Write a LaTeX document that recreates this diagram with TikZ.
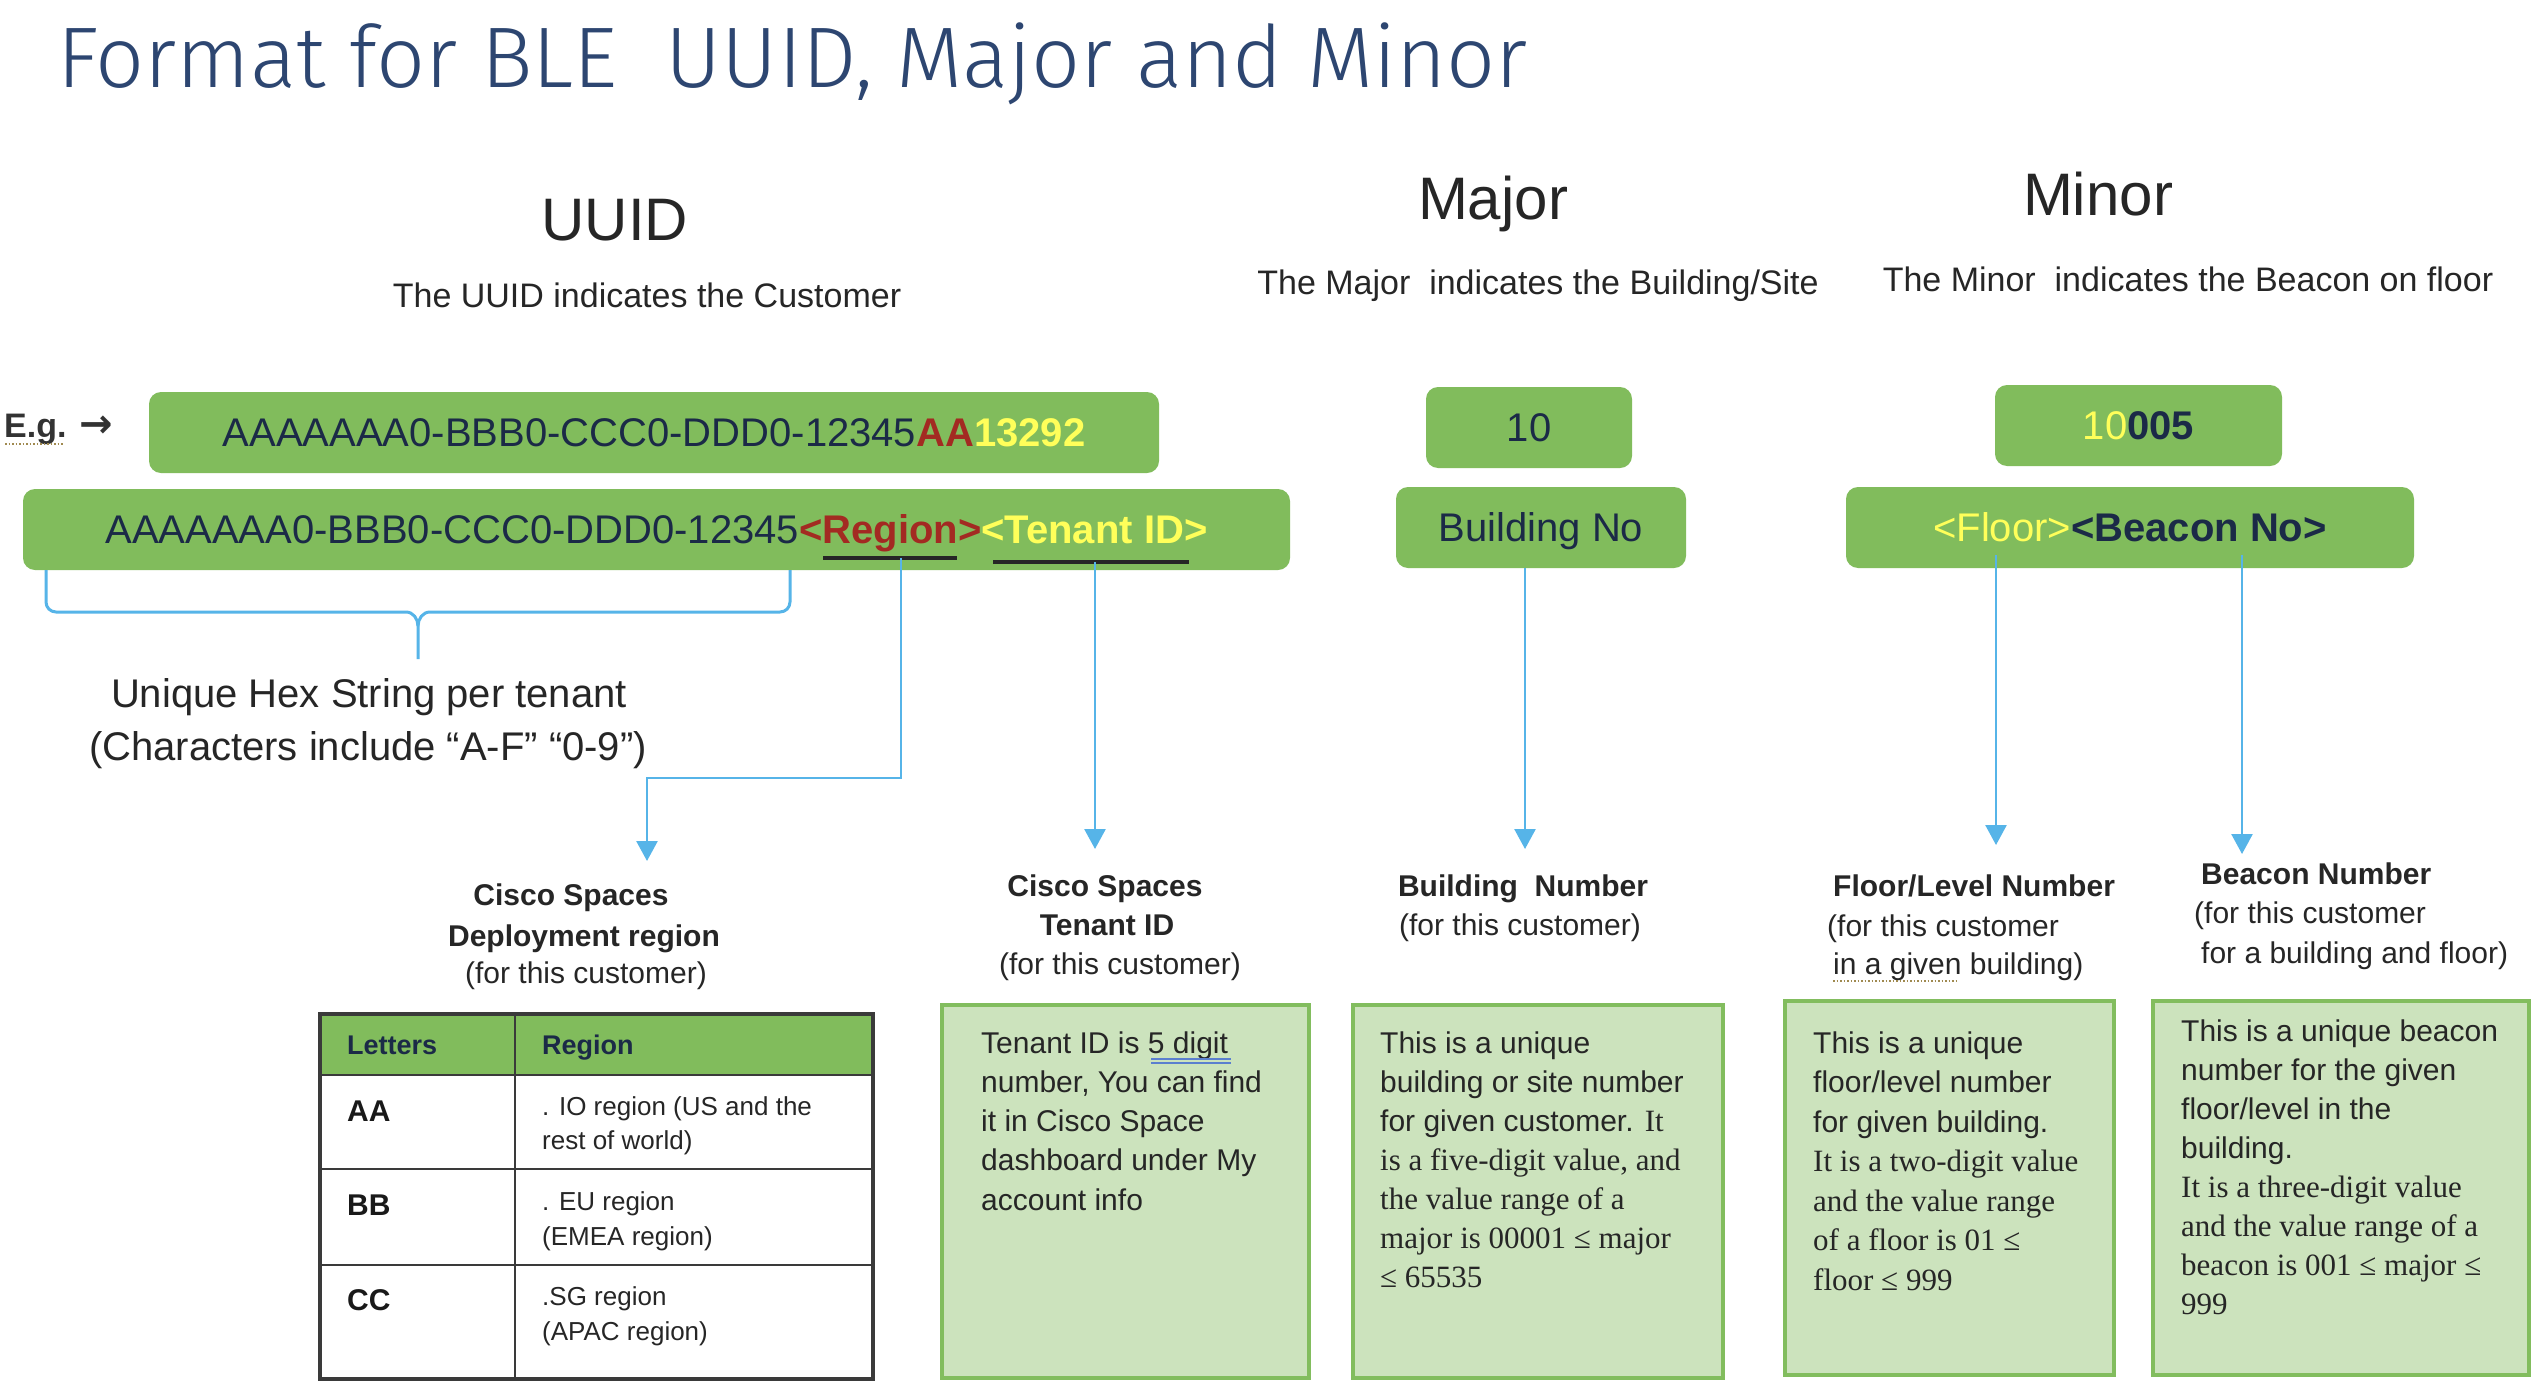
\documentclass[tikz,border=0pt]{standalone}
\usepackage{fontspec}
\setmainfont{Liberation Sans}
\newfontfamily\serifbody{Liberation Serif}
\newfontfamily\arrowfont{DejaVu Sans}
\IfFontExistsTF{Fira Sans Light}{\newfontfamily\titlefont{Fira Sans Light}}{\newfontfamily\titlefont{Liberation Sans}}
\usetikzlibrary{arrows.meta}
\newcommand\setfs[1]{\fontsize{#1}{#1}\selectfont}
\definecolor{titleblue}{HTML}{2D4671}
\definecolor{dgray}{HTML}{262626}
\definecolor{egray}{HTML}{333333}
\definecolor{navy}{HTML}{1B2A47}
\definecolor{uured}{HTML}{A32A22}
\definecolor{uuyellow}{HTML}{FFFF5A}
\definecolor{boxgreen}{HTML}{81BC5C}
\definecolor{lightgreen}{HTML}{CCE3BD}
\definecolor{bordergreen}{HTML}{82BD5E}
\definecolor{connblue}{HTML}{56B4E8}
\definecolor{dotolive}{HTML}{A08A50}
\definecolor{gramblue}{HTML}{5B7FCF}
\definecolor{tablegray}{HTML}{3A3A3A}
\begin{document}
\begin{tikzpicture}[x=1pt,y=-1pt,
  txt/.style={inner sep=0pt, text=dgray},
  gbox/.style={fill=boxgreen, rounded corners=12pt, inner sep=0pt, font=\setfs{40}, text height=28pt, text depth=0pt},
  dbox/.style={fill=lightgreen, draw=bordergreen, line width=3.5pt, inner sep=0pt},
  conn/.style={draw=connblue, line width=2.6pt, -{Triangle[width=21pt,length=20pt]}},
  bracel/.style={draw=connblue, line width=3pt},
  uline/.style={draw=dgray, line width=4pt},
  lblb/.style={txt, anchor=base, font=\bfseries\setfs{30}},
  lblr/.style={txt, anchor=base, font=\setfs{30}},
  lblbw/.style={txt, anchor=base west, font=\bfseries\setfs{30}},
  lblrw/.style={txt, anchor=base west, font=\setfs{30}},
  body/.style={txt, anchor=base west, font=\setfs{30}},
  tcell/.style={txt, anchor=base west, font=\setfs{26}},
  thead/.style={txt, anchor=base west, text=navy, font=\bfseries\setfs{27}},
  tkey/.style={txt, anchor=base west, text=black!90, font=\bfseries\setfs{30}},
  tline/.style={draw=tablegray, line width=2.5pt},
  touter/.style={draw=tablegray, line width=4pt}
]
\fill[white] (0,0) rectangle (2538,1392);
\useasboundingbox (0,0) rectangle (2538,1392);

% title
\node[txt, text=titleblue, anchor=base west] (title) at (57,87) {\titlefont\setfs{86}Format for BLE\ \ UUID, Major and Minor};

% headings
\node[txt, anchor=base, font=\setfs{60}] (uuidhead) at (615,240) {UUID};
\node[txt, anchor=base, font=\setfs{34}] (uuidsub) at (647,307) {The UUID indicates the Customer};
\node[txt, anchor=base, font=\setfs{60}] (majorhead) at (1493,219) {Major};
\node[txt, anchor=base, font=\setfs{34}] (majorsub) at (1538,294) {The Major\ \ indicates the Building/Site};
\node[txt, anchor=base, font=\setfs{60}] (minorhead) at (2098,215) {Minor};
\node[txt, anchor=base, font=\setfs{34}] (minorsub) at (2188,291) {The Minor\ \ indicates the Beacon on floor};

% E.g.
\node[txt, anchor=base west, text=egray, font=\bfseries\setfs{34}] (eg) at (4,437) {E.g. {\arrowfont\bfseries\setfs{40}→}};
\draw[dotted, line width=1.5pt, draw=dotolive] (5,444) -- (63,444);

% green boxes
\node[gbox, minimum width=1010pt, minimum height=81pt] (egbox) at (654,432.5)
  {\color{navy}AAAAAAA0-BBB0-CCC0-DDD0-12345\textbf{\textcolor{uured}{AA}\textcolor{uuyellow}{13292}}};
\node[gbox, minimum width=1267pt, minimum height=81pt] (fmtbox) at (656.5,529.5)
  {\color{navy}AAAAAAA0-BBB0-CCC0-DDD0-12345\textbf{\textcolor{uured}{<Region>}\textcolor{uuyellow}{<Tenant ID>}}};
\node[gbox, minimum width=206pt, minimum height=81pt] (box10) at (1529,427.5) {\color{navy}10};
\node[gbox, minimum width=290pt, minimum height=81pt] (bldgbox) at (1541,527.5) {\color{navy}Building No};
\node[gbox, minimum width=287pt, minimum height=81pt] (box10005) at (2138.5,425.5)
  {\textcolor{uuyellow}{10}\textcolor{navy}{\bfseries 005}};
\node[gbox, minimum width=568pt, minimum height=81pt] (floorbox) at (2130,527.5)
  {\textcolor{uuyellow}{<Floor>}\textcolor{navy}{\bfseries <Beacon No>}};

% underlines
\draw[uline] (823,558) -- (957,558);
\draw[uline] (993,562) -- (1189,562);

% brace
\draw[bracel] (46,570) -- (46,602) to[out=-90,in=180] (56,612) -- (406,612) to[out=0,in=90] (418,626) -- (418,659);
\draw[bracel] (790,570) -- (790,602) to[out=-90,in=0] (780,612) -- (430,612) to[out=180,in=90] (418,626);

% hex label
\node[txt, anchor=base, font=\setfs{40}] (hex1) at (369,707) {Unique Hex String per tenant};
\node[txt, anchor=base, font=\setfs{40}] (hex2) at (368,760) {(Characters include “A-F” “0-9”)};

% connectors
\coordinate (regstart) at (901,558);
\coordinate (regtip) at (647,861);
\coordinate (tenstart) at (1095,562);
\coordinate (tentip) at (1095,849);
\coordinate (bldtip) at (1525,849);
\coordinate (flrstart) at (1996,555);
\coordinate (flrtip) at (1996,845);
\coordinate (bcnstart) at (2242,555);
\coordinate (bcntip) at (2242,854);
\draw[conn] (regstart) -- (901,778) -| (regtip);
\draw[conn] (tenstart) -- (tentip);
\draw[conn] (bldtip |- bldgbox.south) -- (bldtip);
\draw[conn] (flrstart) -- (flrtip);
\draw[conn] (bcnstart) -- (bcntip);

% labels
\node[lblb] (reg1) at (571,905) {Cisco Spaces};
\node[lblb] (reg2) at (584,946) {Deployment region};
\node[lblr] (reg3) at (586,983) {(for this customer)};
\node[lblb] (ten1) at (1105,896) {Cisco Spaces};
\node[lblb] (ten2) at (1107,935) {Tenant ID};
\node[lblr] (ten3) at (1120,974) {(for this customer)};
\node[lblb] (bld1) at (1523,896) {Building\ \ Number};
\node[lblr] (bld2) at (1520,935) {(for this customer)};
\node[lblbw] (flr1) at (1833,896) {Floor/Level Number};
\node[lblrw] (flr2) at (1827,936) {(for this customer};
\node[lblrw] (flr3) at (1833,974) {in a given building)};
\draw[dotted, line width=1.5pt, draw=dotolive] (1833,981) -- (1959,981);
\node[lblbw] (bcn1) at (2201,884) {Beacon Number};
\node[lblrw] (bcn2) at (2194,923) {(for this customer};
\node[lblrw] (bcn3) at (2201,963) {for a building and floor)};

% table
\fill[boxgreen] (320,1014) rectangle (873,1075);
\draw[tline] (320,1075) -- (873,1075);
\draw[tline] (320,1169) -- (873,1169);
\draw[tline] (320,1265) -- (873,1265);
\draw[tline] (515,1014) -- (515,1379);
\draw[touter] (320,1014) rectangle (873,1379);
\node[thead] (th1) at (347,1054) {Letters};
\node[thead] (th2) at (542,1054) {Region};
\node[tkey] (tk1) at (347,1121) {AA};
\node[tkey] (tk2) at (347,1215) {BB};
\node[tkey] (tk3) at (347,1310) {CC};
\node[tcell] (tc1) at (542,1115) {. IO region (US and the};
\node[tcell] (tc2) at (542,1149) {rest of world)};
\node[tcell] (tc3) at (542,1210) {. EU region};
\node[tcell] (tc4) at (542,1245) {(EMEA region)};
\node[tcell] (tc5) at (542,1305) {.SG region};
\node[tcell] (tc6) at (542,1340) {(APAC region)};

% description boxes
\node[dbox, minimum width=367pt, minimum height=373pt] (tenbox) at (1125.5,1191.5) {};
\node[dbox, minimum width=370pt, minimum height=373pt] (bldbox) at (1538,1191.5) {};
\node[dbox, minimum width=329pt, minimum height=374pt] (flrbox) at (1949.5,1188) {};
\node[dbox, minimum width=376pt, minimum height=374pt] (bcnbox) at (2341,1188) {};

\foreach \t [count=\i from 0] in {{Tenant ID is 5 digit},{number, You can find},{it in Cisco Space},{dashboard under My},{account info}}
  \node[body] (tb\i) at (981,{1053+39.3*\i}) {\t};
\draw[draw=gramblue, line width=1.3pt] (1151,1059) -- (1231,1059);
\draw[draw=gramblue, line width=1.3pt] (1151,1063) -- (1231,1063);

\foreach \t [count=\i from 0] in {{This is a unique},{building or site number},{for given customer. {\serifbody\setfs{31}It}},{\serifbody\setfs{31}is a five-digit value, and},{\serifbody\setfs{31}the value range of a},{\serifbody\setfs{31}major is 00001 ≤ major},{\serifbody\setfs{31}≤ 65535}}
  \node[body] (bb\i) at (1380,{1053+39*\i}) {\t};

\foreach \t [count=\i from 0] in {{This is a unique},{floor/level number},{for given building.},{\serifbody\setfs{31}It is a two-digit value},{\serifbody\setfs{31}and the value range},{\serifbody\setfs{31}of a floor is 01 ≤},{\serifbody\setfs{31}floor ≤ 999}}
  \node[body] (fb\i) at (1813,{1053+39.5*\i}) {\t};

\foreach \t [count=\i from 0] in {{This is a unique beacon},{number for the given},{floor/level in the},{building.},{\serifbody\setfs{31}It is a three-digit value},{\serifbody\setfs{31}and the value range of a},{\serifbody\setfs{31}beacon is 001 ≤ major ≤},{\serifbody\setfs{31}999}}
  \node[body] (cb\i) at (2181,{1041+39*\i}) {\t};
\end{tikzpicture}
\end{document}
